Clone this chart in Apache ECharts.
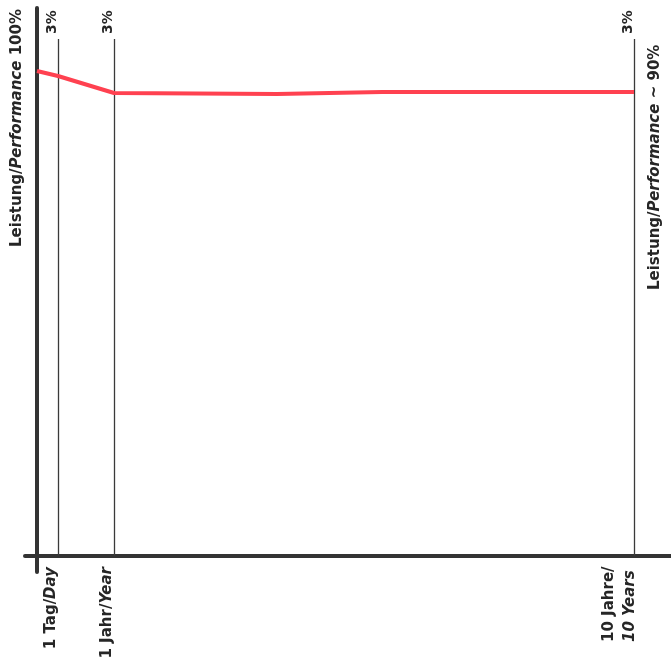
<!DOCTYPE html>
<html>
<head>
<meta charset="utf-8">
<script src="https://cdn.jsdelivr.net/npm/echarts@6/dist/echarts.min.js"></script>
<style>
html,body{margin:0;padding:0;background:#fff;}
#chart{width:671px;height:663px;}
</style>
</head>
<body>
<div id="chart"></div>
<script>
// ---- data (schematic units) ----
const milestoneLabels = ['{r|1 Tag/}{i|Day}', '{r|1 Jahr/}{i|Year}', '{r|10 Jahre/}\n{i|10 Years}'];
const milestoneX = [21, 77, 597];
const lossLabels = ['3%', '3%', '3%'];
const markerTop = 517;
const curveX = [0, 21, 77, 240, 345, 597];
const curveY = [485, 480, 463, 462, 464, 464];
const leftTitle = '{r|Leistung/}{i|Performance}{r| 100%}';
const rightTitle = '{r|Leistung/}{i|Performance}{r| ~ 90%}';

const FONT = '"DejaVu Sans", sans-serif';
const INK = '#262626';
const mkRich = (size) => ({
  r: {fontFamily: FONT, fontWeight: 'bold', fontSize: size, fill: INK, color: INK},
  i: {fontFamily: FONT, fontWeight: 'bold', fontStyle: 'italic', fontSize: size, fill: INK, color: INK}
});

const chart = echarts.init(document.getElementById('chart'), null, {renderer: 'canvas'});
const option = {
  animation: false,
  backgroundColor: '#fff',
  grid: {left: 25, right: 0, top: 8, bottom: 91, containLabel: false},
  xAxis: {
    type: 'value', min: -12, max: 634,
    axisLine: {onZero: true, lineStyle: {color: '#333', width: 4}},
    axisTick: {show: false}, axisLabel: {show: false}, splitLine: {show: false}
  },
  yAxis: {
    type: 'value', min: -16, max: 548,
    axisLine: {onZero: true, lineStyle: {color: '#333', width: 4}},
    axisTick: {show: false}, axisLabel: {show: false}, splitLine: {show: false}
  },
  series: [{
    type: 'line',
    data: curveX.map((x, i) => [x, curveY[i]]),
    symbol: 'none',
    z: 5,
    lineStyle: {color: '#ff4150', width: 4},
    markLine: {
      silent: true,
      symbol: 'none',
      label: {show: false},
      lineStyle: {color: '#3a3a3a', width: 1.3, type: 'solid'},
      z: 1,
      data: milestoneX.map(x => [{coord: [x, 0]}, {coord: [x, markerTop]}])
    }
  }]
};
chart.setOption(option);

// ---- text placed via the chart's own scales ----
const graphics = [];
milestoneX.forEach((x, i) => {
  const top = chart.convertToPixel({gridIndex: 0}, [x, markerTop]);
  graphics.push({
    type: 'text', x: top[0] - 6, y: top[1] - 5, rotation: Math.PI / 2,
    style: {text: lossLabels[i], fontFamily: FONT, fontWeight: 'bold', fontSize: 14, fill: INK,
            align: 'left', verticalAlign: 'middle'}
  });
  const base = chart.convertToPixel({gridIndex: 0}, [x, 0]);
  const twoLine = milestoneLabels[i].indexOf('\n') >= 0;
  graphics.push({
    type: 'text',
    x: base[0] + (twoLine ? -14.5 : -7),
    y: base[1] + (twoLine ? 86 : 11),
    rotation: Math.PI / 2,
    style: {text: milestoneLabels[i], rich: mkRich(15), fill: INK, lineHeight: 21,
            align: twoLine ? 'left' : 'right', verticalAlign: 'middle'}
  });
});
graphics.push({
  type: 'text', x: 17, y: 247, rotation: Math.PI / 2,
  style: {text: leftTitle, rich: mkRich(15), fill: INK, align: 'left', verticalAlign: 'middle'}
});
graphics.push({
  type: 'text', x: 655, y: 290, rotation: Math.PI / 2,
  style: {text: rightTitle, rich: mkRich(15), fill: INK, align: 'left', verticalAlign: 'middle'}
});
chart.setOption({graphic: graphics});
</script>
</body>
</html>
